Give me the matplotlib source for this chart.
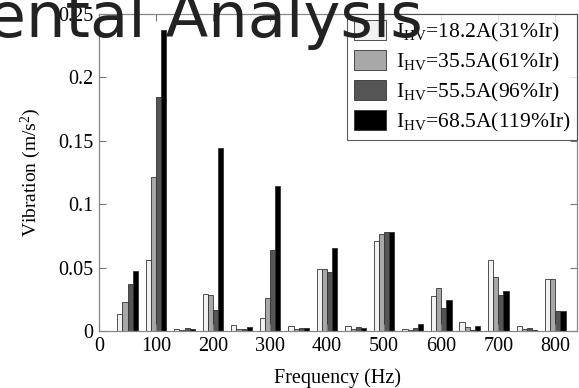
import matplotlib
matplotlib.use("Agg")
import matplotlib.pyplot as plt
import numpy as np

freqs = [50, 100, 150, 200, 250, 300, 350, 400, 450, 500, 550, 600, 650, 700, 750, 800]
i_18 = [0.0137, 0.0557, 0.0013, 0.0290, 0.0047, 0.0100, 0.0039, 0.0489, 0.0039, 0.0707, 0.0016, 0.0279, 0.0071, 0.0560, 0.0042, 0.0413]
i_35 = [0.0229, 0.1218, 0.0010, 0.0281, 0.0015, 0.0258, 0.0018, 0.0489, 0.0015, 0.0765, 0.0008, 0.0342, 0.0032, 0.0423, 0.0018, 0.0413]
i_55 = [0.0374, 0.1848, 0.0024, 0.0163, 0.0015, 0.0639, 0.0025, 0.0465, 0.0028, 0.0778, 0.0024, 0.0184, 0.0010, 0.0286, 0.0022, 0.0158]
i_68 = [0.0473, 0.2374, 0.0015, 0.1440, 0.0035, 0.1143, 0.0025, 0.0655, 0.0025, 0.0780, 0.0052, 0.0247, 0.0042, 0.0315, 0.0008, 0.0158]
labels = [r"I$_{\mathrm{HV}}$=18.2A(31%Ir)", r"I$_{\mathrm{HV}}$=35.5A(61%Ir)",
          r"I$_{\mathrm{HV}}$=55.5A(96%Ir)", r"I$_{\mathrm{HV}}$=68.5A(119%Ir)"]
xticks = [0, 100, 200, 300, 400, 500, 600, 700, 800]
yticks = [0, 0.05, 0.1, 0.15, 0.2, 0.25]
ytick_labels = ["0", "0.05", "0.1", "0.15", "0.2", "0.25"]

plt.rcParams["font.family"] = ["Liberation Serif", "DejaVu Serif"]
plt.rcParams["mathtext.fontset"] = "custom"
plt.rcParams["mathtext.rm"] = "Liberation Serif"
plt.rcParams["mathtext.it"] = "Liberation Serif:italic"

fig = plt.figure(figsize=(5.79, 3.88), dpi=100)
ax = fig.add_axes([99/579, 57/388, (577-99)/579, (331-14)/388])

colors = ["#f2f2f2", "#a8a8a8", "#555555", "#000000"]
series = [i_18, i_35, i_55, i_68]
w = 9.0
offsets = [-1.5*w, -0.5*w, 0.5*w, 1.5*w]
x = np.array(freqs, dtype=float)
for s, c, o, lab in zip(series, colors, offsets, labels):
    ax.bar(x + o, s, width=w, color=c, edgecolor="#333333", linewidth=0.6, label=lab)

ax.set_xlim(0, 838)
ax.set_ylim(0, 0.25)
ax.set_xticks(xticks)
ax.set_yticks(yticks)
ax.set_yticklabels(ytick_labels)
ax.tick_params(direction="in", top=True, right=True, length=5, width=0.8,
               color="#777777", labelsize=14.5, pad=4)
for sp in ax.spines.values():
    sp.set_color("#888888")
    sp.set_linewidth(0.9)

ax.set_xlabel("Frequency (Hz)", fontsize=14.5, labelpad=9)
ax.set_ylabel(r"Vibration (m/s$^{2}$)", fontsize=14, labelpad=11)

leg = ax.legend(loc="upper right", fontsize=15.5, frameon=True, fancybox=False,
                edgecolor="#333333", borderaxespad=0.0, handlelength=1.5,
                handleheight=1.0, labelspacing=0.3, borderpad=0.3,
                handletextpad=0.45)
leg.get_frame().set_linewidth(0.8)

fig.text(423/579, 1 - 37/388, "Experimental Analysis", ha="right", va="baseline",
         fontsize=45, family="DejaVu Sans", color="#222222")

fig.savefig("out.png", dpi=100)
